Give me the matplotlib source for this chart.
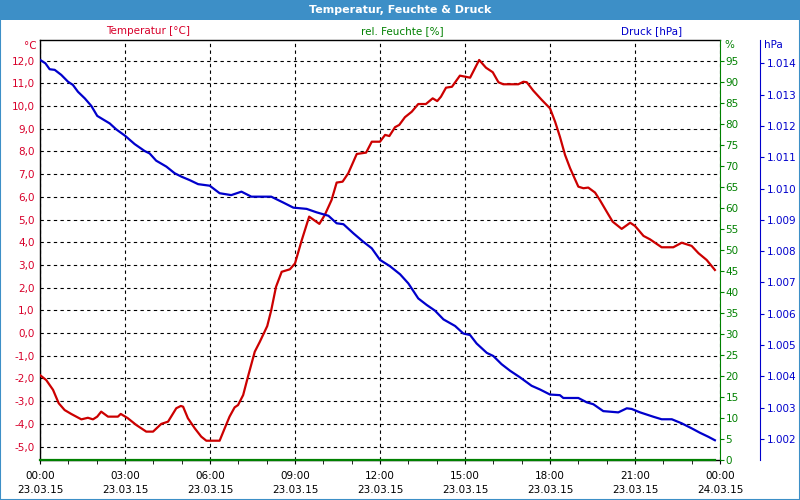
import matplotlib
matplotlib.use('Agg')
import matplotlib.pyplot as plt
from matplotlib.patches import Rectangle

# Temperatur [°C] ueber Stunden seit 23.03.15 00:00
temp_h = [0.0, 0.22, 0.46, 0.66, 0.87, 1.1, 1.46, 1.69, 1.87, 2.02, 2.16, 2.4, 2.75, 2.85,
          3.1, 3.4, 3.75, 3.99, 4.28, 4.52, 4.81, 4.97, 5.05, 5.22, 5.46, 5.69, 5.87, 6.34,
          6.52, 6.69, 6.87, 6.99, 7.17, 7.34, 7.58, 7.76, 8.02, 8.16, 8.33, 8.53, 8.82, 9.0,
          9.24, 9.5, 9.86, 10.05, 10.29, 10.47, 10.68, 10.88, 11.18, 11.51, 11.71, 12.0,
          12.18, 12.33, 12.53, 12.68, 12.88, 13.12, 13.35, 13.62, 13.86, 14.02, 14.15, 14.33,
          14.54, 14.82, 15.18, 15.5, 15.74, 15.98, 16.18, 16.35, 16.88, 17.06, 17.18, 17.41,
          17.71, 18.0, 18.18, 18.35, 18.53, 18.71, 19.0, 19.18, 19.35, 19.59, 19.76, 20.0,
          20.21, 20.53, 20.83, 21.0, 21.3, 21.53, 21.94, 22.35, 22.65, 23.0, 23.24, 23.53, 23.82]
temp_c = [-1.85, -2.07, -2.5, -3.09, -3.39, -3.56, -3.8, -3.73, -3.8, -3.68, -3.46, -3.68, -3.68, -3.56,
          -3.75, -4.05, -4.34, -4.34, -4.0, -3.9, -3.31, -3.21, -3.24, -3.75, -4.19, -4.56, -4.74, -4.74,
          -4.19, -3.68, -3.27, -3.17, -2.73, -1.92, -0.82, -0.38, 0.31, 1.0, 2.04, 2.7, 2.81, 3.07,
          4.1, 5.13, 4.81, 5.2, 5.86, 6.63, 6.67, 7.04, 7.89, 7.95, 8.43, 8.43,
          8.73, 8.68, 9.07, 9.17, 9.51, 9.75, 10.09, 10.09, 10.34, 10.22, 10.41, 10.81,
          10.85, 11.34, 11.25, 12.03, 11.69, 11.49, 11.05, 10.96, 10.96, 11.07, 11.05, 10.68,
          10.27, 9.9, 9.31, 8.65, 7.85, 7.26, 6.45, 6.38, 6.41, 6.19, 5.86, 5.35,
          4.91, 4.59, 4.86, 4.72, 4.28, 4.13, 3.78, 3.78, 3.98, 3.84, 3.52, 3.22, 2.78]

# Druck [hPa]
druck_h = [0.0, 0.19, 0.34, 0.52, 0.75, 0.99, 1.16, 1.34, 1.58, 1.81, 2.02, 2.22, 2.46, 2.69,
           3.01, 3.34, 3.69, 3.87, 4.1, 4.46, 4.75, 4.99, 5.28, 5.58, 5.99, 6.34, 6.75, 7.11,
           7.46, 8.16, 8.59, 8.94, 9.41, 9.76, 10.18, 10.47, 10.71, 11.06, 11.41, 11.71, 12.0,
           12.35, 12.71, 13.0, 13.35, 13.65, 13.94, 14.24, 14.65, 14.94, 15.18, 15.41, 15.77,
           16.0, 16.29, 16.59, 16.94, 17.35, 17.65, 18.0, 18.35, 18.47, 19.0, 19.3, 19.53,
           19.88, 20.41, 20.71, 20.88, 21.18, 21.65, 21.94, 22.3, 22.65, 23.0, 23.29, 23.59, 23.82]
druck_hpa = [1014.11, 1014.0, 1013.81, 1013.79, 1013.63, 1013.41, 1013.31, 1013.09, 1012.88,
             1012.64, 1012.32, 1012.21, 1012.08, 1011.89, 1011.68, 1011.42, 1011.2, 1011.12,
             1010.89, 1010.7, 1010.49, 1010.38, 1010.27, 1010.14, 1010.09, 1009.85, 1009.79,
             1009.9, 1009.74, 1009.74, 1009.55, 1009.39, 1009.35, 1009.24, 1009.13, 1008.89,
             1008.86, 1008.57, 1008.3, 1008.09, 1007.72, 1007.52, 1007.26, 1006.97, 1006.49,
             1006.28, 1006.1, 1005.82, 1005.61, 1005.37, 1005.32, 1005.05, 1004.75, 1004.65,
             1004.39, 1004.18, 1003.97, 1003.7, 1003.58, 1003.42, 1003.4, 1003.31, 1003.31,
             1003.17, 1003.11, 1002.89, 1002.85, 1002.98, 1002.96, 1002.85, 1002.71, 1002.63,
             1002.63, 1002.5, 1002.34, 1002.2, 1002.07, 1001.96]

# rel. Feuchte [%] - Sensor liefert nur 0
feuchte_h = [0.0, 23.82]
feuchte_pct = [0, 0]

x_ticks = list(range(0, 25, 3))
x_labels = ['00:00\n23.03.15', '03:00\n23.03.15', '06:00\n23.03.15', '09:00\n23.03.15',
            '12:00\n23.03.15', '15:00\n23.03.15', '18:00\n23.03.15', '21:00\n23.03.15',
            '00:00\n24.03.15']
temp_ticks = list(range(-5, 13))
feuchte_ticks = list(range(0, 100, 5))
druck_ticks = list(range(1002, 1015))

ROT = '#cc0000'
ROT_TXT = '#d8002a'
GRUEN = '#008000'
BLAU = '#0000cc'
RAHMEN = '#3d8fc7'
fs = 7.5

fig = plt.figure(figsize=(8, 5), dpi=100, facecolor='white')

# Fensterrahmen + Titelleiste
fig.patches.append(Rectangle((0, 0), 1, 1, transform=fig.transFigure, fill=False,
                             edgecolor=RAHMEN, lw=1.5))
fig.patches.append(Rectangle((0, 1 - 20 / 500), 1, 20 / 500, transform=fig.transFigure,
                             facecolor=RAHMEN, edgecolor='none'))
fig.text(0.5, 1 - 10 / 500, 'Temperatur, Feuchte & Druck', color='white', weight='bold',
         fontsize=8, ha='center', va='center')

ax = fig.add_axes([40 / 800, 40 / 500, 680 / 800, 420 / 500])
ax_f = ax.twinx()
ax_p = ax.twinx()
ax_p.spines['right'].set_position(('axes', 720 / 680))

# Temperatur-Achse links
ax.plot(temp_h, temp_c, color=ROT, lw=1.6, zorder=3)
ax.set_xlim(0, 24)
ax.set_ylim(-5.59, 12.91)
ax.set_yticks(temp_ticks)
ax.set_yticklabels([f'{v:.1f}'.replace('.', ',') for v in temp_ticks], color=ROT_TXT, fontsize=fs)
ax.tick_params(axis='y', length=0, pad=4)
ax.set_xticks(x_ticks)
ax.set_xticklabels(x_labels, fontsize=fs, linespacing=1.5)
ax.set_xticks(range(0, 25), minor=True)
ax.tick_params(axis='x', which='both', length=3, direction='out', pad=5)
ax.grid(True, which='major', color='black', linestyle=(0, (3, 3)), lw=0.8)
ax.spines['right'].set_visible(False)
for s in ['left', 'top', 'bottom']:
    ax.spines[s].set_linewidth(1.0)

# Feuchte-Achse
ax_f.plot(feuchte_h, feuchte_pct, color=GRUEN, lw=1.6, clip_on=False, zorder=4)
ax_f.set_ylim(0, 100)
ax_f.set_yticks(feuchte_ticks)
ax_f.set_yticklabels([str(v) for v in feuchte_ticks], color=GRUEN, fontsize=fs)
ax_f.tick_params(axis='y', length=3, color=GRUEN, pad=1)
ax_f.spines['right'].set_color(GRUEN)
for s in ['left', 'top', 'bottom']:
    ax_f.spines[s].set_visible(False)

# Druck-Achse
ax_p.plot(druck_h, druck_hpa, color=BLAU, lw=1.6, zorder=3)
ax_p.set_ylim(1001.329, 1014.744)
ax_p.set_yticks(druck_ticks)
ax_p.set_yticklabels([f'{v:,}'.replace(',', '.') for v in druck_ticks], color=BLAU, fontsize=fs)
ax_p.tick_params(axis='y', length=3, color=BLAU, pad=2)
ax_p.spines['right'].set_color(BLAU)
for s in ['left', 'top', 'bottom']:
    ax_p.spines[s].set_visible(False)

# Einheiten und Legenden-Texte
fig.text(30 / 800, 1 - 46 / 500, '°C', color=ROT_TXT, fontsize=fs, ha='center', va='center')
fig.text(729 / 800, 1 - 45 / 500, '%', color=GRUEN, fontsize=fs, ha='center', va='center')
fig.text(773 / 800, 1 - 45 / 500, 'hPa', color=BLAU, fontsize=fs, ha='center', va='center')
fig.text(148 / 800, 1 - 31 / 500, 'Temperatur [°C]', color=ROT_TXT, fontsize=fs, ha='center', va='center')
fig.text(402 / 800, 1 - 31 / 500, 'rel. Feuchte [%]', color=GRUEN, fontsize=fs, ha='center', va='center')
fig.text(652 / 800, 1 - 31 / 500, 'Druck [hPa]', color=BLAU, fontsize=fs, ha='center', va='center')

fig.savefig('out.png', dpi=100, facecolor='white')
